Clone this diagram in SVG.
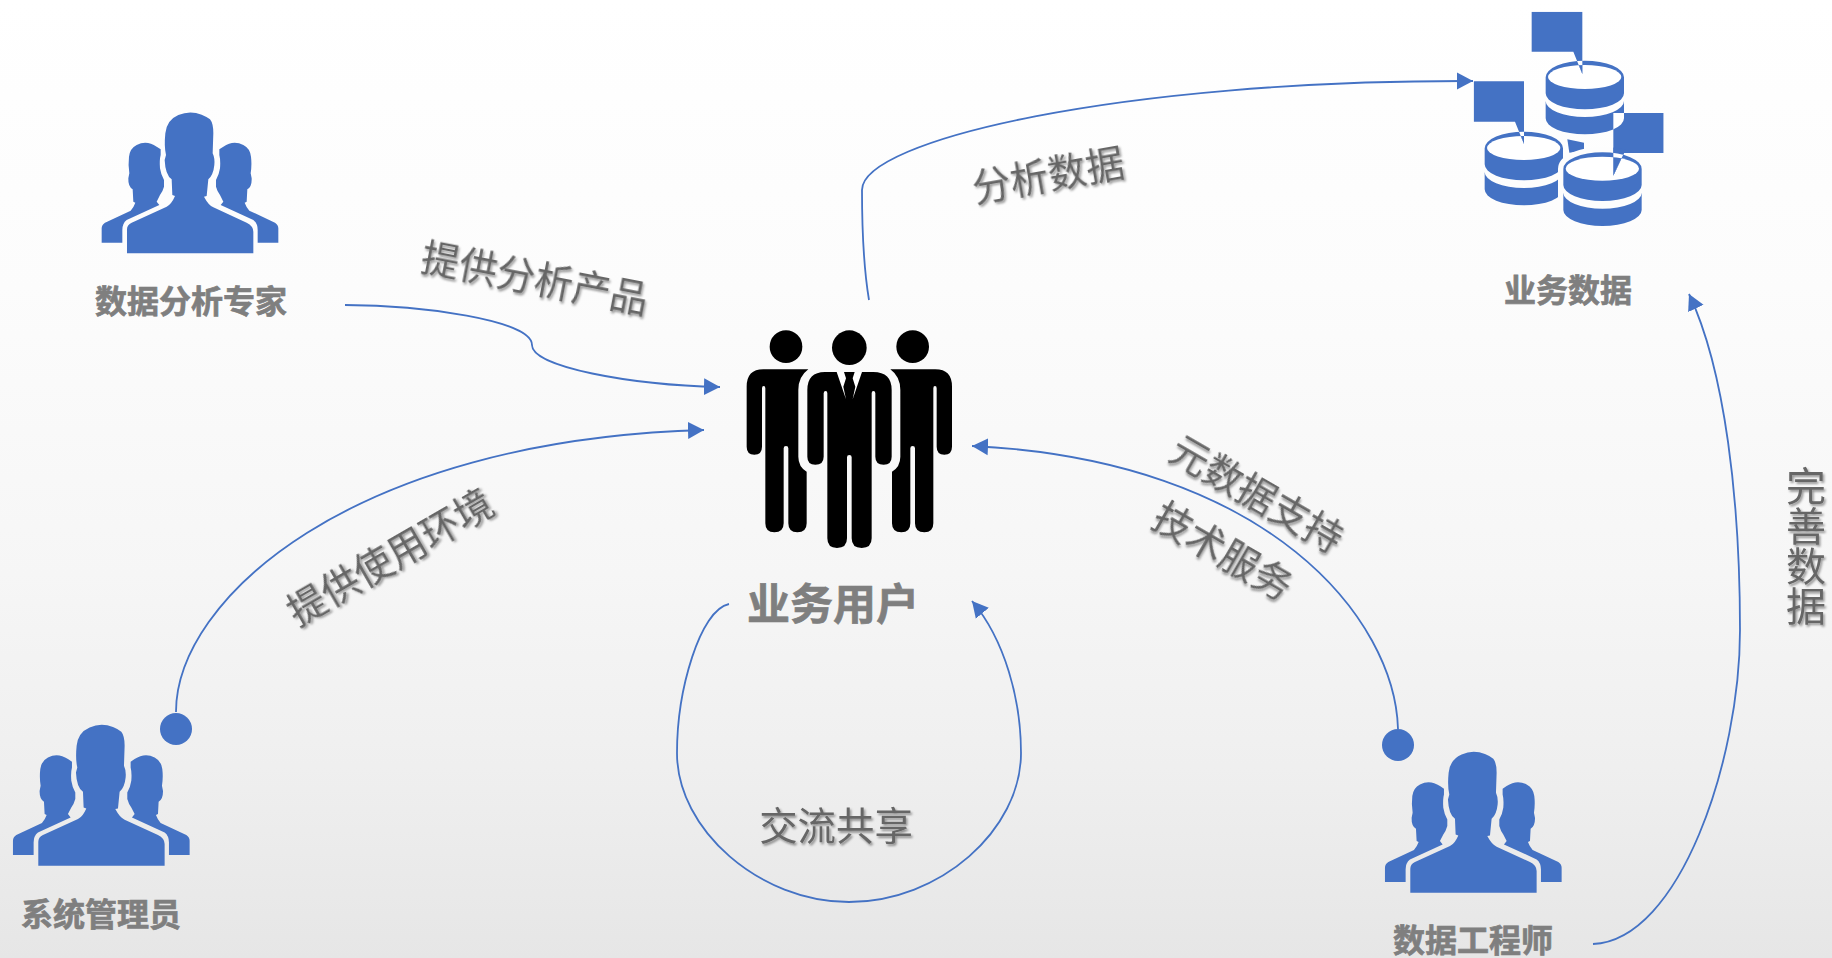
<svg xmlns="http://www.w3.org/2000/svg" xmlns:xlink="http://www.w3.org/1999/xlink" width="1832" height="958" viewBox="0 0 1832 958">
<style>
.conn{fill:none;stroke:#4472c4;stroke-width:1.8}
.arr{marker-end:url(#ah)}
.blue{fill:#4472c4}
.name{font-family:"Noto Sans CJK SC","Liberation Sans",sans-serif;font-weight:700;fill:#7f7f7f;stroke:#7f7f7f;stroke-width:.7;text-anchor:middle;font-size:32px}
.lab{font-family:"Noto Sans CJK SC","Liberation Sans",sans-serif;fill:#666;text-anchor:middle;font-size:38.4px;filter:url(#sh)}
</style>
<defs>
<linearGradient id="bg" x1="0" y1="0" x2="0" y2="1">
<stop offset="0" stop-color="#fff"/><stop offset=".3" stop-color="#fcfcfc"/><stop offset=".6" stop-color="#f6f6f6"/><stop offset=".8" stop-color="#efefef"/><stop offset="1" stop-color="#e6e6e6"/>
</linearGradient>
<filter id="sh" x="-20%" y="-20%" width="140%" height="140%"><feDropShadow dx="1.5" dy="2" stdDeviation="1.2" flood-color="#000" flood-opacity=".4"/></filter>
<marker id="ah" markerUnits="userSpaceOnUse" markerWidth="18" markerHeight="18" refX="16" refY="9" orient="auto"><path d="M0,0.5 L16,9 L0,17.5 Z" fill="#4472c4"/></marker>
<g id="people" class="blue">
<path d="M201,490 L201,418 Q201,405 215,398 L320,350 Q335,342 345,318 L337,315 L335,268 Q316,255 314,210 L318,195 Q312,170 316,130 Q320,90 355,75 Q390,60 425,74 Q440,80 450,88 Q460,100 460,130 L458,190 Q465,205 463,225 Q460,255 445,268 L440,318 L432,320 Q445,345 460,352 L560,398 Q580,408 580,425 L580,490 Z"/>
<path id="sidep" d="M125,458 L125,415 Q125,405 135,398 L212,362 Q222,350 226,338 L220,335 L218,298 Q204,290 205,265 L208,250 Q204,225 207,200 Q210,175 230,165 Q260,150 290,170 L302,178 L302,195 Q298,210 300,235 Q303,255 312,270 L312,290 Q308,305 300,315 L290,335 L298,345 L200,390 Q187,400 187,420 L187,458 Z"/>
<use xlink:href="#sidep" href="#sidep" transform="translate(780,0) scale(-1,1)"/>
</g>
<path id="bands" d="M287,232 A117.5,50 0 0 1 522,232 L522,280 A117.5,48 0 0 1 287,280 Z M287,303 A117.5,48 0 0 0 522,303 L522,355 A117.5,48 0 0 1 287,355 Z"/>
<ellipse id="top" cx="404" cy="231" rx="110" ry="36"/>
<path id="sil" d="M287,232 A117.5,50 0 0 1 522,232 L522,355 A117.5,48 0 0 1 287,355 Z"/>
<clipPath id="speech"><path d="M245,35 H397 V222 L370,155 H245 Z M71,244 H222 V432 L195,365 H71 Z M490,339 H641 V459 H522 L490,527 Z"/></clipPath>
<path id="sideb" d="M130,178 L265,178 Q235,200 235,240 L235,440 Q235,470 260,485 L260,640 Q260,667 232,667 Q205,667 205,640 L205,415 Q205,408 198,408 Q191,408 191,415 L191,640 Q191,667 163,667 Q136,667 136,640 L136,235 Q136,228 131,228 Q126,228 126,235 L126,410 Q126,434 103,434 Q80,434 80,410 L80,230 Q80,178 130,178 Z"/>
</defs>
<rect width="1832" height="958" fill="url(#bg)"/>
<g id="connectors">
<path class="conn arr" d="M345,305 C420,305 532,320 532,345 C532,367 630,385 720,387"/>
<path class="conn arr" d="M176,712 C176,600 350,440 704,430"/>
<path class="conn arr" d="M1398,729 C1395,620 1270,460 972,446"/>
<path class="conn arr" d="M1593,944 C1680,940 1740,760 1740,630 C1740,500 1725,370 1689,294"/>
<path class="conn arr" d="M869,300 C864,270 862,225 862,190 C862,140 1120,80 1473,81"/>
<path class="conn arr" d="M729,604 C700,610 677,690 677,753 C677,830 760,902 849,902 C940,902 1021,830 1021,753 C1021,700 1005,640 972,601"/>
<circle class="blue" cx="176" cy="729" r="16"/>
<circle class="blue" cx="1398" cy="745" r="16"/>
</g>
<g id="labels">
<text class="lab" transform="translate(535,278) rotate(11)" y="14">提供分析产品</text>
<text class="lab" transform="translate(1048,175) rotate(-10)" y="14">分析数据</text>
<text class="lab" transform="translate(390,557) rotate(-30)" y="14">提供使用环境</text>
<text class="lab" transform="translate(1257,494) rotate(30)" y="14">元数据支持</text>
<text class="lab" transform="translate(1223,551) rotate(30)" y="14">技术服务</text>
<text class="lab" x="836" y="840">交流共享</text>
<text class="lab" x="1806" y="546" style="writing-mode:vertical-rl;font-size:40px">完善数据</text>
</g>
<g id="node-analyst">
<use xlink:href="#people" href="#people" transform="translate(60,90) scale(.33333)"/>
<text class="name" x="191" y="313">数据分析专家</text>
</g>
<g id="node-admin">
<use xlink:href="#people" href="#people" transform="translate(-28.7,702.4) scale(.33333)"/>
<text class="name" x="101" y="926">系统管理员</text>
</g>
<g id="node-engineer">
<use xlink:href="#people" href="#people" transform="translate(1343.3,729.4) scale(.33333)"/>
<text class="name" x="1473" y="952">数据工程师</text>
</g>
<g id="node-users">
<g transform="translate(720,310) scale(.33333)">
<circle cx="198" cy="110" r="49"/><circle cx="388" cy="113" r="52"/><circle cx="578" cy="110" r="49"/>
<use xlink:href="#sideb" href="#sideb"/>
<use xlink:href="#sideb" href="#sideb" transform="translate(776,0) scale(-1,1)"/>
<path d="M262,240 Q262,186 315,186 L460,186 Q515,186 515,240 L515,440 Q515,464 491,464 Q466,464 466,440 L466,250 Q466,243 460,243 Q455,243 455,250 L455,685 Q455,714 425,714 Q395,714 395,685 L395,442 Q395,435 388,435 Q381,435 381,442 L381,685 Q381,714 351,714 Q322,714 322,685 L322,250 Q322,243 317,243 Q311,243 311,250 L311,440 Q311,464 286,464 Q262,464 262,440 Z"/>
<path fill="#fff" d="M350,186 L372,186 L378,205 L370,230 L378,268 Z M426,186 L404,186 L398,205 L406,230 L398,268 Z"/>
</g>
<text class="name" x="833" y="620" style="font-size:43px">业务用户</text>
</g>
<g id="node-data">
<g transform="translate(1450,0) scale(.33333)">
<g class="blue">
<use xlink:href="#bands" href="#bands"/><use xlink:href="#top" href="#top" fill="#fff"/>
<path d="M352,418 L402,428 V452 L358,458 Z"/>
<g transform="translate(-183,213)"><use xlink:href="#bands" href="#bands"/><use xlink:href="#top" href="#top" fill="#fff"/></g>
<g transform="translate(53,275)"><use xlink:href="#sil" href="#sil" fill="#fdfdfd" stroke="#fdfdfd" stroke-width="32"/><use xlink:href="#bands" href="#bands"/><use xlink:href="#top" href="#top" fill="#fff"/></g>
</g>
<g clip-path="url(#speech)">
<rect class="blue" width="720" height="600"/>
<g fill="#fff">
<use xlink:href="#bands" href="#bands"/><use xlink:href="#top" href="#top" fill="#4472c4"/>
<g transform="translate(-183,213)"><use xlink:href="#bands" href="#bands"/><use xlink:href="#top" href="#top" fill="#4472c4"/></g>
<g transform="translate(53,275)"><use xlink:href="#sil" href="#sil" fill="#4472c4" stroke="#4472c4" stroke-width="32"/><use xlink:href="#bands" href="#bands"/><use xlink:href="#top" href="#top" fill="#4472c4"/></g>
</g>
</g>
</g>
<text class="name" x="1568" y="302">业务数据</text>
</g>
</svg>
